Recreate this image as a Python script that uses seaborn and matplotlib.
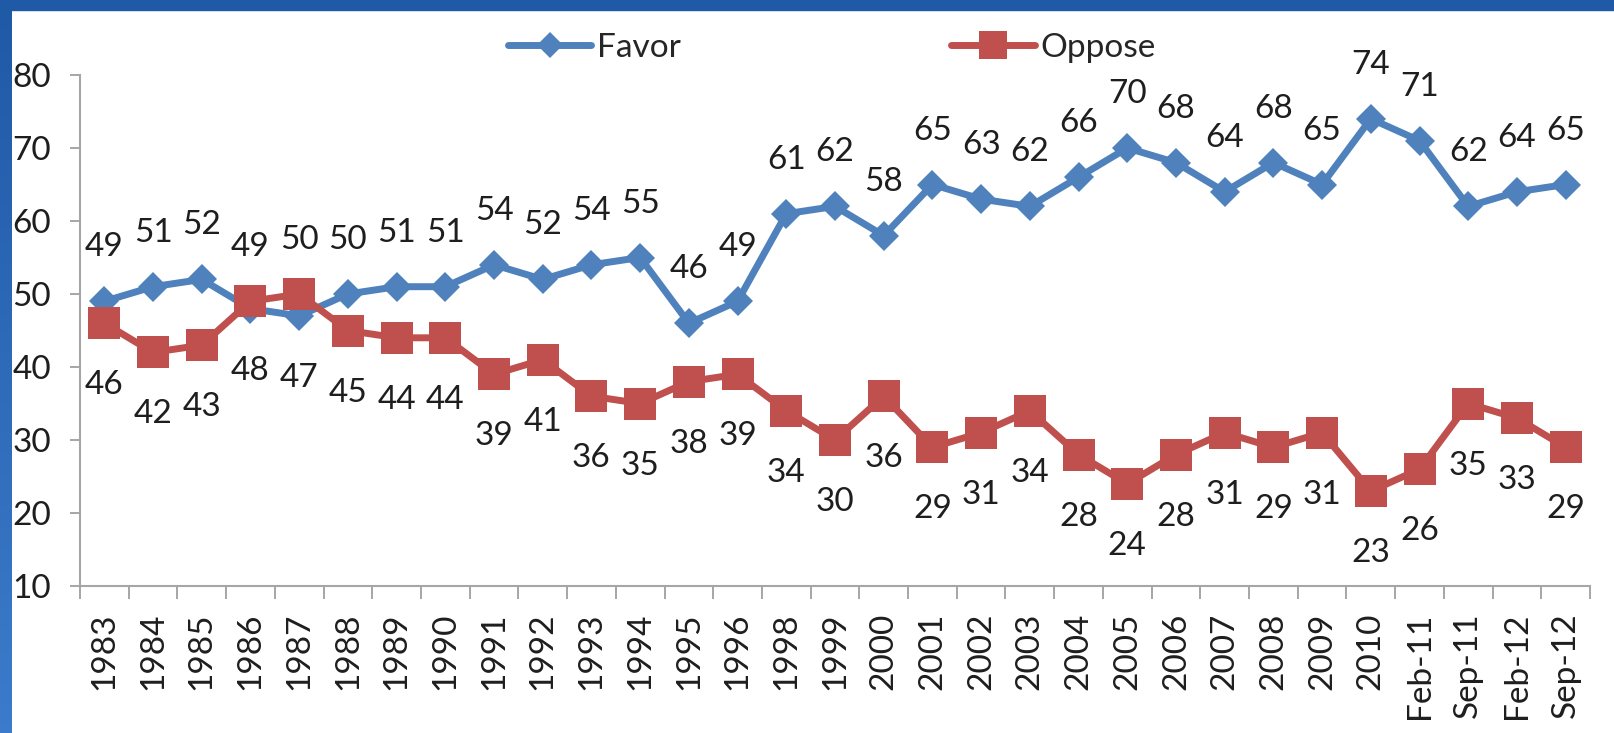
import numpy as np
import pandas as pd
import matplotlib
matplotlib.use("Agg")
import matplotlib.pyplot as plt
from matplotlib.patches import Rectangle
from matplotlib.colors import LinearSegmentedColormap
import seaborn as sns

# Data
periods = ["1983", "1984", "1985", "1986", "1987", "1988", "1989", "1990",
           "1991", "1992", "1993", "1994", "1995", "1996", "1998", "1999",
           "2000", "2001", "2002", "2003", "2004", "2005", "2006", "2007",
           "2008", "2009", "2010", "Feb-11", "Sep-11", "Feb-12", "Sep-12"]
favor = [49, 51, 52, 48, 47, 50, 51, 51, 54, 52, 54, 55, 46, 49, 61, 62,
         58, 65, 63, 62, 66, 70, 68, 64, 68, 65, 74, 71, 62, 64, 65]
oppose = [46, 42, 43, 49, 50, 45, 44, 44, 39, 41, 36, 35, 38, 39, 34, 30,
          36, 29, 31, 34, 28, 24, 28, 31, 29, 31, 23, 26, 35, 33, 29]
y_ticks = [10, 20, 30, 40, 50, 60, 70, 80]

df = pd.DataFrame({"period": periods, "Favor": favor, "Oppose": oppose})
df["pos"] = np.arange(len(df))

blue = "#4F81BD"
red = "#C0504D"
text_col = "#1E1E1E"
fs = 24

sns.set_style("white")
plt.rcParams["font.family"] = ["Lato", "DejaVu Sans"]

fig = plt.figure(figsize=(16.14, 7.33), dpi=100)
ax = fig.add_axes([80 / 1614, 1 - 586 / 733, 1510 / 1614, 511 / 733])

sns.lineplot(data=df, x="pos", y="Favor", ax=ax, color=blue, linewidth=5,
             marker="D", markersize=15.5, markeredgewidth=0, label="Favor")
sns.lineplot(data=df, x="pos", y="Oppose", ax=ax, color=red, linewidth=5,
             marker="s", markersize=23, markeredgewidth=0, label="Oppose")

# data labels: higher value above, lower value below
for p, f, o in zip(df["pos"], df["Favor"], df["Oppose"]):
    hi, lo = max(f, o), min(f, o)
    ax.annotate(str(hi), (p, hi), xytext=(0, 54), textcoords="offset pixels",
                ha="center", va="center", fontsize=fs, color=text_col)
    ax.annotate(str(lo), (p, lo), xytext=(0, -62), textcoords="offset pixels",
                ha="center", va="center", fontsize=fs, color=text_col)

# axes styling
ax.set_xlim(-0.5, len(df) - 0.5)
ax.set_ylim(10, 80)
ax.set_yticks(y_ticks)
ax.set_yticklabels([str(t) for t in y_ticks])
ax.set_xticks(df["pos"])
ax.set_xticklabels(df["period"], rotation=90)
ax.set_xticks(np.arange(-0.5, len(df), 1), minor=True)
ax.set_xlabel("")
ax.set_ylabel("")

ax.tick_params(axis="x", which="major", length=0, pad=19, labelsize=fs,
               labelcolor=text_col)
ax.tick_params(axis="x", which="minor", length=9.5, width=1.4,
               color="#A6A6A6", bottom=True)
ax.tick_params(axis="y", length=7, width=1.4, color="#A6A6A6", pad=14,
               labelsize=fs, labelcolor=text_col, left=True)

sns.despine(ax=ax)
for s in ["left", "bottom"]:
    ax.spines[s].set_color("#A6A6A6")
    ax.spines[s].set_linewidth(1.5)
ax.grid(False)

ax.legend(loc="center left", bbox_to_anchor=(508 / 1614, 1 - 48 / 733),
          bbox_transform=fig.transFigure, ncol=2, frameon=False,
          fontsize=fs, handlelength=2.5, handletextpad=0.18,
          columnspacing=8.1, borderpad=0, borderaxespad=0, markerscale=0.85)

# blue frame along top and left edges
fig.add_artist(Rectangle((0, 1 - 10 / 733), 1, 10 / 733,
                         transform=fig.transFigure, color="#1F5AA6", zorder=5))
bax = fig.add_axes([0, 0, 12 / 1614, 1])
bax.imshow(np.linspace(0, 1, 100)[:, None], aspect="auto",
           cmap=LinearSegmentedColormap.from_list("edge", ["#1F5AA6", "#3C7BCB"]))
bax.axis("off")

fig.savefig("out.png", dpi=100)
